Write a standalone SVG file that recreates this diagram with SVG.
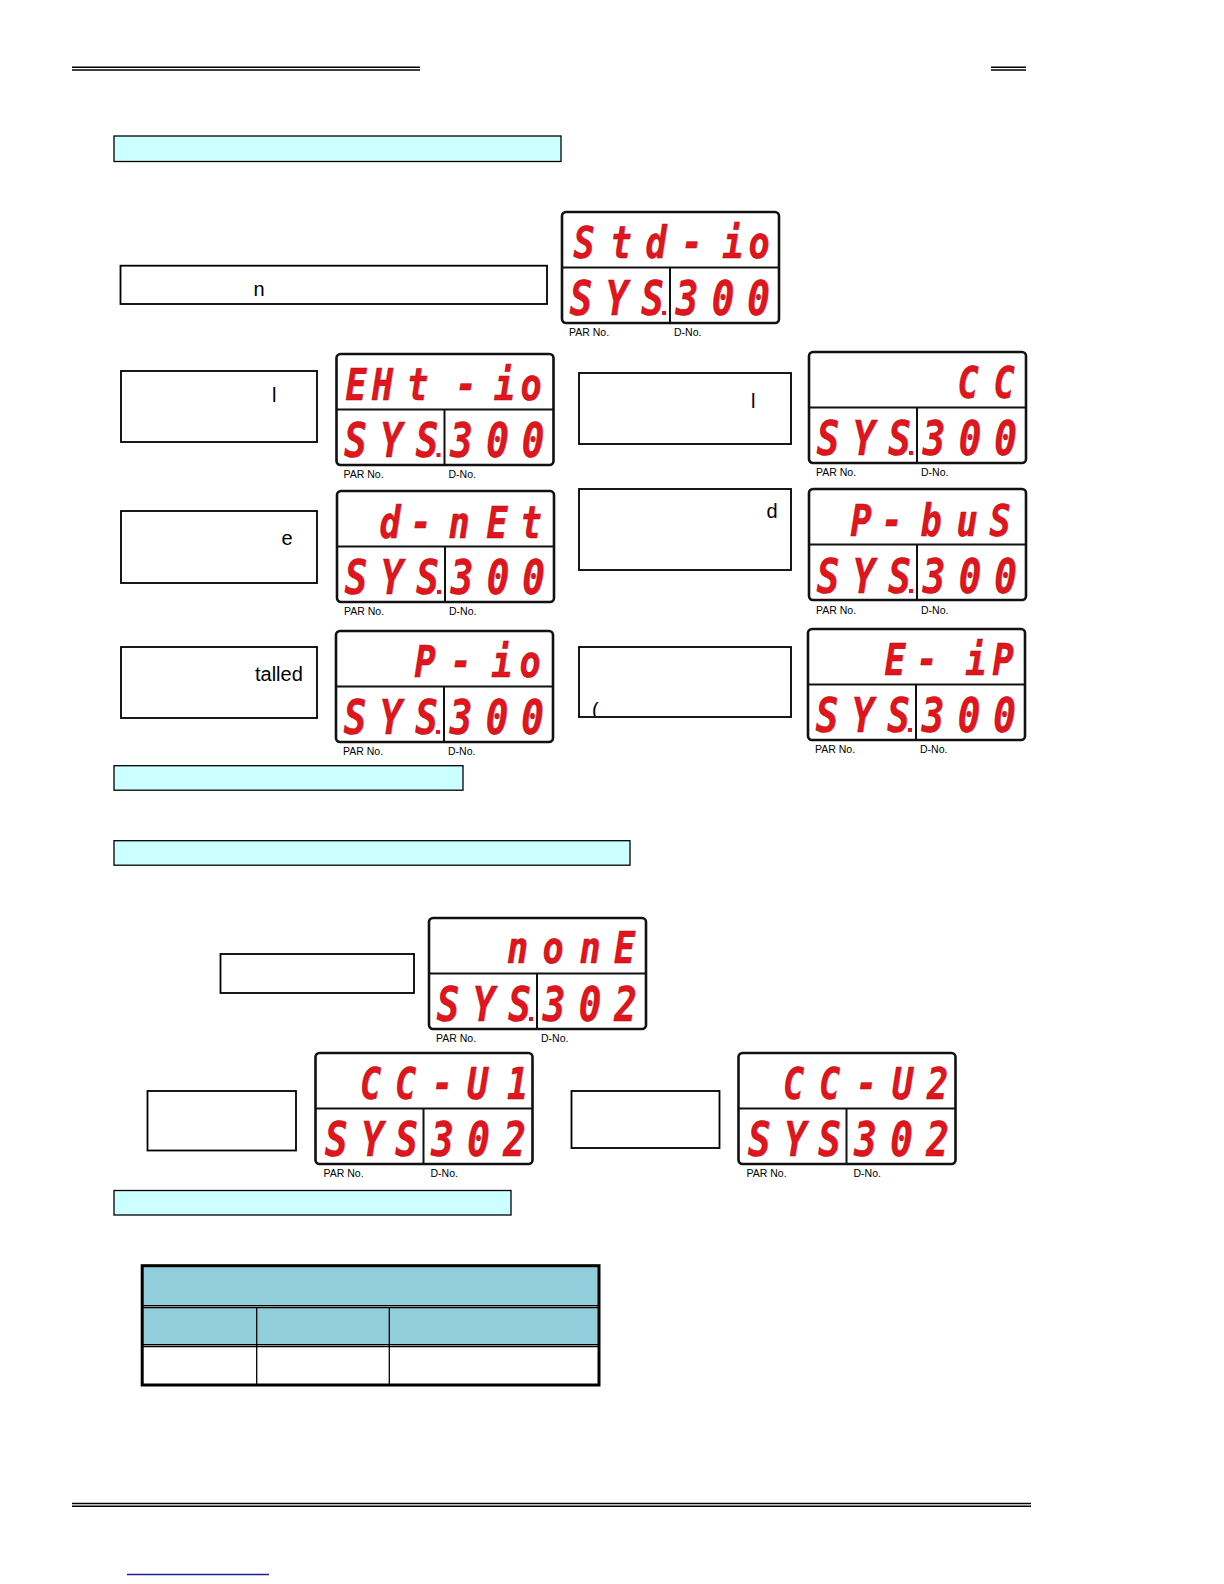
<svg xmlns="http://www.w3.org/2000/svg" xmlns:xlink="http://www.w3.org/1999/xlink" width="1224" height="1584" viewBox="0 0 1224 1584">
<style>
.rule{stroke:#000;stroke-width:1.4;fill:none}
.bar{fill:#ccffff;stroke:#000;stroke-width:1.3}
.box{fill:#fff;stroke:#000;stroke-width:1.8}
.txt{font-family:"Liberation Sans",Arial,sans-serif;font-size:20px;fill:#000}
.lbl{font-family:"Liberation Sans",Arial,sans-serif;font-size:10.5px;fill:#000}
.seg{font-family:"DejaVu Sans Mono",monospace;font-weight:bold;font-style:italic;fill:#e3141b;stroke:#a30d12;stroke-width:0.5;text-anchor:middle}
.top{font-size:44px}
.bot{font-size:47px}
.dot{fill:#e3141b}
.frame{fill:#fff;stroke:#111;stroke-width:2.6}
.div{stroke:#111;stroke-width:2}
.th{fill:#92cddc}
.tl{stroke:#000;stroke-width:1.3}
</style>
<defs>
<g id="frame">
<rect class="frame" x="0" y="0" width="217" height="111" rx="4"/>
<line class="div" x1="0" y1="55.5" x2="217" y2="55.5"/>
<line class="div" x1="108" y1="55.5" x2="108" y2="111"/>
</g>
<rect id="dp" class="dot" x="100" y="99" width="4" height="4"/>
<clipPath id="clipP"><rect x="579" y="647" width="212" height="69"/></clipPath>
</defs>
<rect x="0" y="0" width="1224" height="1584" fill="#fff"/>

<g id="page-rules">
<line class="rule" x1="72" y1="67.3" x2="420" y2="67.3"/>
<line class="rule" x1="72" y1="70" x2="420" y2="70" stroke-width="1.1"/>
<line class="rule" x1="991" y1="67.3" x2="1026" y2="67.3"/>
<line class="rule" x1="991" y1="70" x2="1026" y2="70" stroke-width="1.1"/>
<line class="rule" x1="72" y1="1503.5" x2="1031" y2="1503.5"/>
<line class="rule" x1="72" y1="1506.3" x2="1031" y2="1506.3" stroke-width="1.1"/>
<line x1="127" y1="1574.5" x2="269" y2="1574.5" stroke="#1f1f8f" stroke-width="1.6"/>
</g>

<g id="bars">
<rect class="bar" x="114" y="136" width="447" height="25.5"/>
<rect class="bar" x="114" y="765.7" width="349" height="24.5"/>
<rect class="bar" x="114" y="840.7" width="516" height="24.5"/>
<rect class="bar" x="114" y="1190.5" width="397" height="24.5"/>
</g>

<g id="box-n"><rect class="box" x="120.5" y="265.7" width="426.5" height="38.3"/><text class="txt" x="253.5" y="296">n</text></g>
<g id="box-r1l"><rect class="box" x="121" y="371" width="196" height="71"/><text class="txt" x="272" y="402">l</text></g>
<g id="box-r1r"><rect class="box" x="579" y="373" width="212" height="71"/><text class="txt" x="751" y="408">l</text></g>
<g id="box-r2l"><rect class="box" x="121" y="511" width="196" height="72"/><text class="txt" x="281.5" y="545">e</text></g>
<g id="box-r2r"><rect class="box" x="579" y="489" width="212" height="81"/><text class="txt" x="766.5" y="518">d</text></g>
<g id="box-r3l"><rect class="box" x="121" y="647" width="196" height="71"/><text class="txt" x="255" y="681" font-size="20.5">talled</text></g>
<g id="box-r3r"><rect class="box" x="579" y="647" width="212" height="70"/><text class="txt" x="592" y="716.5" clip-path="url(#clipP)">(</text></g>
<g id="box-mid"><rect class="box" x="220.5" y="954" width="193.5" height="39"/></g>
<g id="box-u1"><rect class="box" x="147.5" y="1091" width="148.5" height="59.5"/></g>
<g id="box-u2"><rect class="box" x="571.5" y="1091" width="148" height="57"/></g>

<g id="disp-std-io" transform="translate(562,212)">
<use xlink:href="#frame"/>
<text class="seg top" transform="scale(0.8 1)" x="27.5 73.75 117.5 162.5 213.75 246.25" y="46">Std-io</text>
<text class="seg bot" transform="scale(0.8 1)" x="23.75 68.75 113.1" y="103">SYS</text><use xlink:href="#dp"/>
<text class="seg bot" transform="scale(0.8 1)" x="156.25 201.25 245.6" y="103">300</text>
<text class="lbl" x="7" y="124">PAR No.</text><text class="lbl" x="112" y="124">D-No.</text>
</g>

<g id="disp-eht-io" transform="translate(336.5,354)">
<use xlink:href="#frame"/>
<text class="seg top" transform="scale(0.8 1)" x="24.4 57.5 101.25 161.9 210 243.1" y="46">EHt-io</text>
<text class="seg bot" transform="scale(0.8 1)" x="23.75 68.75 113.1" y="103">SYS</text><use xlink:href="#dp"/>
<text class="seg bot" transform="scale(0.8 1)" x="156.25 201.25 245.6" y="103">300</text>
<text class="lbl" x="7" y="124">PAR No.</text><text class="lbl" x="112" y="124">D-No.</text>
</g>

<g id="disp-cc" transform="translate(809,352)">
<use xlink:href="#frame"/>
<text class="seg top" transform="scale(0.8 1)" x="198.75 243.75" y="46">CC</text>
<text class="seg bot" transform="scale(0.8 1)" x="23.75 68.75 113.1" y="103">SYS</text><use xlink:href="#dp"/>
<text class="seg bot" transform="scale(0.8 1)" x="156.25 201.25 245.6" y="103">300</text>
<text class="lbl" x="7" y="124">PAR No.</text><text class="lbl" x="112" y="124">D-No.</text>
</g>

<g id="disp-d-net" transform="translate(337,491)">
<use xlink:href="#frame"/>
<text class="seg top" transform="scale(0.8 1)" x="66.25 105 152.5 200 242.5" y="47">d-nEt</text>
<text class="seg bot" transform="scale(0.8 1)" x="23.75 68.75 113.1" y="103">SYS</text><use xlink:href="#dp"/>
<text class="seg bot" transform="scale(0.8 1)" x="156.25 201.25 245.6" y="103">300</text>
<text class="lbl" x="7" y="124">PAR No.</text><text class="lbl" x="112" y="124">D-No.</text>
</g>

<g id="disp-p-bus" transform="translate(809,489)">
<use xlink:href="#frame"/>
<text class="seg top" transform="scale(0.8 1)" x="65 103.75 152.5 197.5 238.75" y="47">P-buS</text>
<text class="seg bot" transform="scale(0.8 1)" x="23.75 68.75 113.1" y="104">SYS</text><use xlink:href="#dp" y="1"/>
<text class="seg bot" transform="scale(0.8 1)" x="156.25 201.25 245.6" y="104">300</text>
<text class="lbl" x="7" y="125">PAR No.</text><text class="lbl" x="112" y="125">D-No.</text>
</g>

<g id="disp-p-io" transform="translate(336,631)">
<use xlink:href="#frame"/>
<text class="seg top" transform="scale(0.8 1)" x="111.25 156.25 207.5 242.5" y="46">P-io</text>
<text class="seg bot" transform="scale(0.8 1)" x="23.75 68.75 113.1" y="103">SYS</text><use xlink:href="#dp"/>
<text class="seg bot" transform="scale(0.8 1)" x="156.25 201.25 245.6" y="103">300</text>
<text class="lbl" x="7" y="124">PAR No.</text><text class="lbl" x="112" y="124">D-No.</text>
</g>

<g id="disp-e-ip" transform="translate(808,629)">
<use xlink:href="#frame"/>
<text class="seg top" transform="scale(0.8 1)" x="108.75 148.75 210 243.75" y="46">E-iP</text>
<text class="seg bot" transform="scale(0.8 1)" x="23.75 68.75 113.1" y="103">SYS</text><use xlink:href="#dp"/>
<text class="seg bot" transform="scale(0.8 1)" x="156.25 201.25 245.6" y="103">300</text>
<text class="lbl" x="7" y="124">PAR No.</text><text class="lbl" x="112" y="124">D-No.</text>
</g>

<g id="disp-none" transform="translate(429,918)">
<use xlink:href="#frame"/>
<text class="seg top" transform="scale(0.8 1)" x="110.6 155 201.25 244.4" y="45">nonE</text>
<text class="seg bot" transform="scale(0.8 1)" x="23.75 68.75 113.1" y="103">SYS</text><use xlink:href="#dp"/>
<text class="seg bot" transform="scale(0.8 1)" x="156.25 201.25 245.6" y="103">302</text>
<text class="lbl" x="7" y="124">PAR No.</text><text class="lbl" x="112" y="124">D-No.</text>
</g>

<g id="disp-cc-u1" transform="translate(315.5,1053)">
<use xlink:href="#frame"/>
<text class="seg top" transform="scale(0.8 1)" x="68.75 112.5 158.75 202.5 252.5" y="46">CC-U1</text>
<text class="seg bot" transform="scale(0.8 1)" x="26 71.25 113.75 158.75 203.75 248.75" y="103">SYS302</text>
<text class="lbl" x="8" y="124">PAR No.</text><text class="lbl" x="115" y="124">D-No.</text>
</g>

<g id="disp-cc-u2" transform="translate(738.5,1053)">
<use xlink:href="#frame"/>
<text class="seg top" transform="scale(0.8 1)" x="68.75 113.75 160 205 248.75" y="46">CC-U2</text>
<text class="seg bot" transform="scale(0.8 1)" x="26 71.25 113.75 158.75 203.75 248.75" y="103">SYS302</text>
<text class="lbl" x="8" y="124">PAR No.</text><text class="lbl" x="115" y="124">D-No.</text>
</g>

<g id="table">
<rect class="th" x="142" y="1266" width="457" height="39.7"/>
<rect class="th" x="142" y="1307.3" width="457" height="37.4"/>
<line class="tl" x1="142" y1="1305.7" x2="599" y2="1305.7"/>
<line class="tl" x1="142" y1="1307.5" x2="599" y2="1307.5"/>
<line class="tl" x1="142" y1="1344.6" x2="599" y2="1344.6"/>
<line class="tl" x1="142" y1="1346.5" x2="599" y2="1346.5"/>
<line class="tl" x1="256.7" y1="1307.5" x2="256.7" y2="1385"/>
<line class="tl" x1="389.3" y1="1307.5" x2="389.3" y2="1385"/>
<rect x="142.2" y="1265.7" width="456.8" height="119.3" fill="none" stroke="#000" stroke-width="3"/>
</g>
</svg>
